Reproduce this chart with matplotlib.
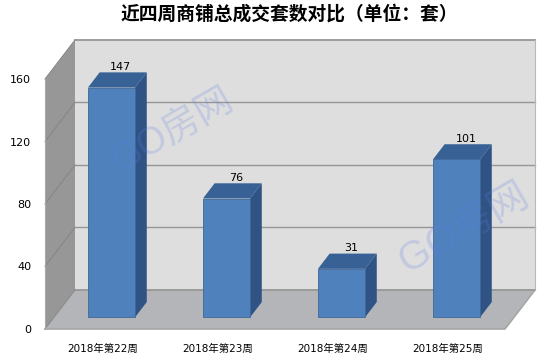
'''
Weekly shop transactions, drawn as a fake 3D column chart
'''

import matplotlib
matplotlib.use('Agg')
from matplotlib import pyplot
from matplotlib.patches import Polygon

weeks = ['2018年第22周', '2018年第23周', '2018年第24周', '2018年第25周']
counts = [147, 76, 31, 101]
y_ticks = [0, 40, 80, 120, 160]
title = '近四周商铺总成交套数对比（单位：套）'
watermark = 'GO房网'

# depth vector of the box, in data units
depth_x = 30 / 115.
depth_y = 25.
bar_width = 0.41
bar_near = 0.3   # bars sit between these fractions of the depth
bar_far = 0.69

W, H = 545., 361.
fig = pyplot.figure(figsize=(5.45, 3.61), dpi=100, facecolor='white')
ax = fig.add_axes([45 / W, 1 - 329 / H, 491 / W, 289 / H])
ax.set_xlim(0, 491 / 115.)
ax.set_ylim(0, 289 / 1.5625)
ax.axis('off')

n = len(weeks)
top = y_ticks[-1]

def poly(points, color, edge='none', lw=0.0, z=1):
    ax.add_patch(Polygon(points, closed=True, facecolor=color, edgecolor=edge, linewidth=lw, zorder=z, clip_on=False))

# side wall, back wall, floor
poly([(0, 0), (depth_x, depth_y), (depth_x, top + depth_y), (0, top)], '#979797', z=1)
poly([(depth_x, depth_y), (n + depth_x, depth_y), (n + depth_x, top + depth_y), (depth_x, top + depth_y)], '#dedede', z=1)
poly([(0, 0), (n, 0), (n + depth_x, depth_y), (depth_x, depth_y)], '#b3b5b8', z=1)

for t in y_ticks:
    lw = 1.3 if t in (0, top) else 1.0
    ax.plot([depth_x, n + depth_x], [t + depth_y, t + depth_y], color='#969696', linewidth=lw, zorder=2, clip_on=False)
    ax.plot([0, depth_x], [t, t + depth_y], color='#858585', linewidth=0.7, zorder=2, clip_on=False)
ax.plot([0, 0], [0, top], color='#a8a8a8', linewidth=0.8, zorder=2, clip_on=False)
ax.plot([n + depth_x, n + depth_x], [depth_y, top + depth_y], color='#b8b8b8', linewidth=0.8, zorder=2, clip_on=False)
ax.plot([0, n, n + depth_x], [0, 0, depth_y], color='#a6a6a6', linewidth=1.2, zorder=2, clip_on=False)

# columns
centers = [i + 0.5 for i in range(n)]
x_near = [c + bar_near * depth_x for c in centers]
y_near = bar_near * depth_y
shift_x = (bar_far - bar_near) * depth_x
shift_y = (bar_far - bar_near) * depth_y

ax.bar(x_near, counts, width=bar_width, bottom=y_near, color='#4f81bd', edgecolor='#3f6797', linewidth=0.6, zorder=4)
for xc, v in zip(x_near, counts):
    left = xc - bar_width / 2
    right = xc + bar_width / 2
    ytop = y_near + v
    poly([(left, ytop), (right, ytop), (right + shift_x, ytop + shift_y), (left + shift_x, ytop + shift_y)], '#386295', z=3)
    poly([(right, y_near), (right + shift_x, y_near + shift_y), (right + shift_x, ytop + shift_y), (right, ytop)], '#2f5384', z=3)
    ax.annotate(str(v), (xc + shift_x * 0.8, ytop + shift_y), xytext=(0, 0.5), textcoords='offset points', ha='center', va='bottom',
                fontsize=8, family='DejaVu Sans', color='black', zorder=6, annotation_clip=False)

# axis labels
ax.set_axis_on()
for s in ax.spines.values():
    s.set_visible(False)
ax.patch.set_visible(False)
ax.set_yticks(y_ticks)
ax.set_yticklabels([str(t) for t in y_ticks], fontsize=8, family='DejaVu Sans', color='black')
ax.set_xticks(centers)
ax.set_xticklabels(weeks, fontsize=7.5, family=['DejaVu Sans', 'Noto Sans CJK SC'], color='black')
ax.tick_params(axis='y', length=0, pad=10)
ax.tick_params(axis='x', length=0, pad=11)

fig.text(289.5 / W, 1 - 14.5 / H, title, ha='center', va='center', fontsize=13.5, fontweight='bold',
         family=['Noto Sans CJK SC', 'DejaVu Sans'], color='black')

wm_family = ['Liberation Sans', 'Noto Sans CJK SC']
fig.text(173 / W, 1 - 131 / H, watermark, ha='center', va='center', rotation=30, rotation_mode='anchor', fontsize=27,
         family=wm_family, color='#5f7fe6', alpha=0.22, zorder=10)
fig.text(464 / W, 1 - 228 / H, watermark, ha='center', va='center', rotation=30, rotation_mode='anchor', fontsize=29,
         family=wm_family, color='#5f7fe6', alpha=0.22, zorder=10)

pyplot.savefig('out.png', format='png', dpi=100)
